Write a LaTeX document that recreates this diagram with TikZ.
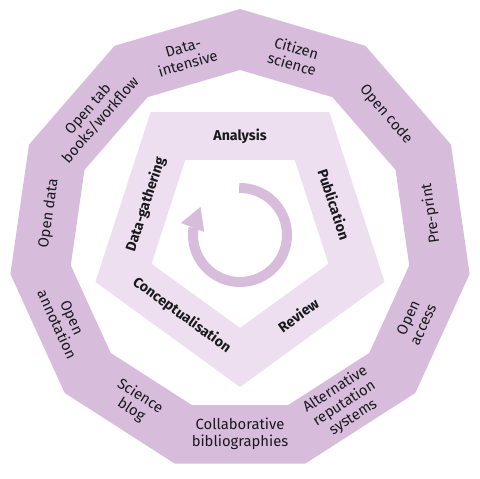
\documentclass[tikz,border=0pt]{standalone}
\usepackage{fontspec}
\setmainfont{Fira Sans}
\usetikzlibrary{calc}
\definecolor{ringc}{RGB}{216,188,220}
\definecolor{pentc}{RGB}{237,223,239}
\definecolor{txtc}{RGB}{25,25,30}
\tikzset{
  outerlbl/.style={text=txtc, align=center, inner sep=0pt, font=\fontsize{14.8}{16.5}\selectfont},
  innerlbl/.style={text=txtc, inner sep=0pt, font=\fontsize{14.2}{16}\selectfont\bfseries},
}
\begin{document}
\begin{tikzpicture}[x=1pt,y=1pt]
\useasboundingbox (0,0) rectangle (480,479);
\coordinate (O) at (240,238);
\coordinate (P) at (240,244);
% outer ring (11-gon)
\fill[ringc, even odd rule]
  ($(O)+(90:232)$) \foreach \k in {1,...,10}{ -- ($(O)+(90-\k*32.72727:232)$)} -- cycle
  ($(O)+(90:171)$) \foreach \k in {1,...,10}{ -- ($(O)+(90-\k*32.72727:171)$)} -- cycle;
% pentagon ring
\fill[pentc, even odd rule]
  ($(P)+(-90:152)$) \foreach \k in {1,...,4}{ -- ($(P)+(-90+\k*72:152)$)} -- cycle
  ($(P)+(-90:93)$) \foreach \k in {1,...,4}{ -- ($(P)+(-90+\k*72:93)$)} -- cycle;
% outer labels
\node[outerlbl, rotate=16.36]  (d1)  at ($(O)+(106.36:193)$) {Data-\\intensive};
\node[outerlbl, rotate=-16.36] (d2)  at ($(O)+(73.64:193)$)  {Citizen\\science};
\node[outerlbl, rotate=-49.09] (d3)  at ($(O)+(40.91:193)$)  {Open code};
\node[outerlbl, rotate=98.18]  (d4)  at ($(O)+(8.18:193)$)   {Pre-print};
\node[outerlbl, rotate=65.45]  (d5)  at ($(O)+(-24.55:193)$) {Open\\access};
\node[outerlbl, rotate=32.73]  (d6)  at ($(O)+(-57.27:193)$) {Alternative\\reputation\\systems};
\node[outerlbl]                (d7)  at ($(O)+(-90:193)$)    {Collaborative\\bibliographies};
\node[outerlbl, rotate=-32.73] (d8)  at ($(O)+(-122.73:193)$){Science\\blog};
\node[outerlbl, rotate=-65.45] (d9)  at ($(O)+(-155.45:193)$){Open\\annotation};
\node[outerlbl, rotate=81.82]  (d10) at ($(O)+(171.82:193)$) {Open data};
\node[outerlbl, rotate=49.09]  (d11) at ($(O)+(139.09:193)$) {Open tab\\books/workflow};
% inner labels
\node[innerlbl]              (p1) at ($(P)+(90:99)$)   {Analysis};
\node[innerlbl, rotate=-72]  (p2) at ($(P)+(18:99)$)   {Publication};
\node[innerlbl, rotate=36]   (p3) at ($(P)+(-54:99)$)  {Review};
\node[innerlbl, rotate=-36]  (p4) at ($(P)+(-126:99)$) {Conceptualisation};
\node[innerlbl, rotate=72]   (p5) at ($(P)+(162:99)$)  {Data-gathering};
% circular arrow
\draw[ringc, line width=10pt] ($(P)+(91:47)$) arc[start angle=91, end angle=-189, radius=47];
\coordinate (B) at ($(P)+(171:48)$);
\fill[ringc] ($(B)+(159:12.5)$) -- ($(B)+(69:22)$) -- ($(B)+(-21:12.5)$) -- cycle;
\end{tikzpicture}
\end{document}
